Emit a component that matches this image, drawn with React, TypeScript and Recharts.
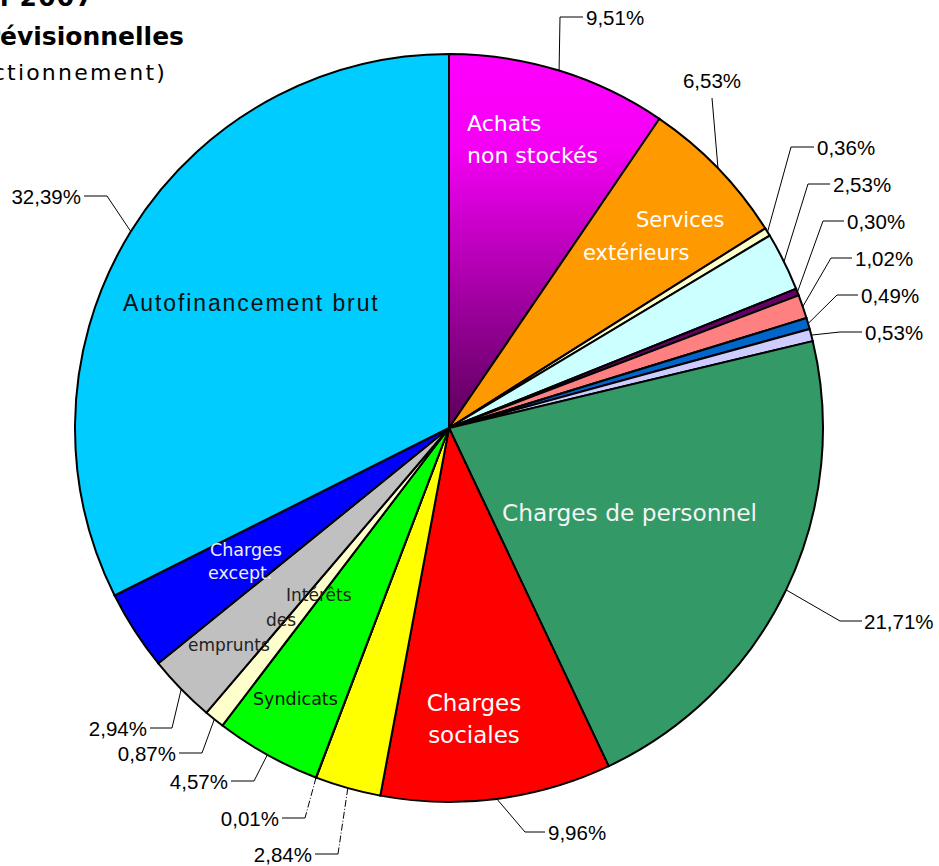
import { PieChart, Pie, Cell } from "recharts";

// postes de dépenses, dans l'ordre du camembert (sens horaire depuis midi)
const categories = [
  "Achats non stockés",
  "Services extérieurs",
  "Poste 3",
  "Poste 4",
  "Poste 5",
  "Poste 6",
  "Poste 7",
  "Poste 8",
  "Charges de personnel",
  "Charges sociales",
  "Poste 11",
  "Poste 12",
  "Syndicats",
  "Poste 14",
  "Intérêts des emprunts",
  "Charges except.",
  "Autofinancement brut",
];

const values = [9.51, 6.53, 0.36, 2.53, 0.3, 1.02, 0.49, 0.53, 21.71, 9.96, 2.84, 0.01, 4.57, 0.87, 2.94, 3.44, 32.39];

const percentLabels = [
  "9,51%", "6,53%", "0,36%", "2,53%", "0,30%", "1,02%", "0,49%", "0,53%",
  "21,71%", "9,96%", "2,84%", "0,01%", "4,57%", "0,87%", "2,94%", "", "32,39%",
];

const sliceColors = [
  "url(#achatsGrad)", "#FF9900", "#FFFFCC", "#CCFFFF", "#660066", "#FF8080", "#0066CC", "#CCCCFF",
  "#339966", "#FF0000", "#FFFF00", "#993366", "#00FF00", "#FFFFCC", "#C0C0C0", "#0000FF", "#00CCFF",
];

const data = categories.map((name, i) => ({ name, value: values[i] }));

// placement des étiquettes (mise en page, pas des données)
type Callout = { elbow: [number, number]; end: [number, number]; tx: number; ty: number; anchor: "start" | "middle" | "end"; dashed?: boolean };
const callouts: Record<number, Callout> = {
  0: { elbow: [560, 17], end: [583, 17], tx: 586, ty: 17, anchor: "start" },
  1: { elbow: [712, 98], end: [712, 98], tx: 712, ty: 80, anchor: "middle" },
  2: { elbow: [791, 147], end: [814, 147], tx: 817, ty: 147, anchor: "start" },
  3: { elbow: [808, 184], end: [830, 184], tx: 833, ty: 184, anchor: "start" },
  4: { elbow: [823, 221], end: [844, 221], tx: 847, ty: 221, anchor: "start" },
  5: { elbow: [831, 258], end: [852, 258], tx: 855, ty: 258, anchor: "start" },
  6: { elbow: [837, 295], end: [858, 295], tx: 861, ty: 295, anchor: "start" },
  7: { elbow: [840, 332], end: [862, 332], tx: 865, ty: 332, anchor: "start" },
  8: { elbow: [840, 621], end: [862, 621], tx: 864, ty: 621, anchor: "start" },
  9: { elbow: [525, 832], end: [545, 832], tx: 548, ty: 832, anchor: "start" },
  10: { elbow: [338, 854], end: [315, 854], tx: 312, ty: 854, anchor: "end", dashed: true },
  11: { elbow: [305, 818], end: [282, 818], tx: 279, ty: 818, anchor: "end", dashed: true },
  12: { elbow: [254, 781], end: [231, 781], tx: 228, ty: 781, anchor: "end" },
  13: { elbow: [202, 753], end: [179, 753], tx: 176, ty: 753, anchor: "end" },
  14: { elbow: [172, 728], end: [150, 728], tx: 147, ty: 728, anchor: "end" },
  16: { elbow: [107, 196], end: [84, 196], tx: 81, ty: 196, anchor: "end" },
};

type Line = { t: string; x: number; y: number; anchor?: "start" | "middle" | "end" };
type Inside = { lines: Line[]; color: string; size: number; font?: string; spacing?: number };
const CG = "'DejaVu Sans', sans-serif";
const insideLabels: Record<number, Inside> = {
  0: { lines: [{ t: "Achats", x: 467, y: 123 }, { t: "non stockés", x: 467, y: 155 }], color: "#fff", size: 22 },
  1: { lines: [{ t: "Services", x: 636, y: 220 }, { t: "extérieurs", x: 583, y: 253 }], color: "#fff", size: 21 },
  8: { lines: [{ t: "Charges de personnel", x: 502, y: 512 }], color: "#f4f4f4", size: 23.3 },
  9: { lines: [{ t: "Charges", x: 474, y: 703, anchor: "middle" }, { t: "sociales", x: 474, y: 735, anchor: "middle" }], color: "#fff", size: 23 },
  12: { lines: [{ t: "Syndicats", x: 253, y: 699 }], color: "#111", size: 17.5 },
  14: { lines: [{ t: "Intérêts", x: 286, y: 595 }, { t: "des", x: 266, y: 620 }, { t: "emprunts", x: 188, y: 645 }], color: "#222", size: 17 },
  15: { lines: [{ t: "Charges", x: 210, y: 550 }, { t: "except.", x: 208, y: 573 }], color: "#eee", size: 17.5 },
  16: { lines: [{ t: "Autofinancement brut", x: 123, y: 303 }], color: "#111", size: 23, font: "'Liberation Sans', Arial, sans-serif", spacing: 1.9 },
};

const RAD = Math.PI / 180;

const renderLabel = (props: any) => {
  const { cx, cy, midAngle, outerRadius, index } = props;
  const c = callouts[index];
  const inside = insideLabels[index];
  const ax = cx + outerRadius * Math.cos(-midAngle * RAD);
  const ay = cy + outerRadius * Math.sin(-midAngle * RAD);
  return (
    <g key={`lbl-${index}`}>
      {inside &&
        inside.lines.map((l, j) => (
          <text
            key={j}
            x={l.x}
            y={l.y}
            textAnchor={l.anchor || "start"}
            dominantBaseline="central"
            fill={inside.color}
            fontSize={inside.size}
            fontFamily={inside.font || CG}
            letterSpacing={inside.spacing || 0}
          >
            {l.t}
          </text>
        ))}
      {c && (
        <>
          <line
            x1={ax}
            y1={ay}
            x2={c.elbow[0]}
            y2={c.elbow[1]}
            stroke="#000"
            strokeWidth={1}
            strokeDasharray={c.dashed ? "7 2 1 2" : undefined}
          />
          <line x1={c.elbow[0]} y1={c.elbow[1]} x2={c.end[0]} y2={c.end[1]} stroke="#000" strokeWidth={1} />
          <text
            x={c.tx}
            y={c.ty}
            textAnchor={c.anchor}
            dominantBaseline="central"
            fill="#000"
            fontSize={20.5}
            fontFamily="'Liberation Sans', Arial, sans-serif"
          >
            {percentLabels[index]}
          </text>
        </>
      )}
    </g>
  );
};

export default function App() {
  return (
    <div style={{ position: "absolute", left: 0, top: 0, width: 939, height: 866, background: "#fff" }}>
      <PieChart width={939} height={866} margin={{ top: 0, right: 0, bottom: 0, left: 0 }}>
        <defs>
          <linearGradient id="achatsGrad" gradientUnits="userSpaceOnUse" x1="0" y1="55" x2="0" y2="428">
            <stop offset="0" stopColor="#FF00FF" />
            <stop offset="0.25" stopColor="#F400F4" />
            <stop offset="1" stopColor="#5A005A" />
          </linearGradient>
        </defs>
        <Pie
          data={data}
          dataKey="value"
          nameKey="name"
          cx={449}
          cy={428}
          outerRadius={374}
          startAngle={90}
          endAngle={-270}
          stroke="#000"
          strokeWidth={2}
          label={renderLabel}
          labelLine={false}
          isAnimationActive={false}
        >
          {data.map((_, i) => (
            <Cell key={`cell-${i}`} fill={sliceColors[i]} stroke="#000" strokeWidth={2} />
          ))}
        </Pie>
      </PieChart>
      <svg width={939} height={866} style={{ position: "absolute", left: 0, top: 0, pointerEvents: "none" }}>
        <g fontFamily="'DejaVu Sans', sans-serif" fill="#000" textAnchor="end">
          <text x={94} y={6} fontSize={25} fontWeight="bold" letterSpacing={1.2}>Budget principal 2007</text>
          <text x={184} y={45} fontSize={25} fontWeight="bold">Dépenses prévisionnelles</text>
          <text x={167} y={80} fontSize={22} letterSpacing={2.2}>(section de fonctionnement)</text>
        </g>
      </svg>
    </div>
  );
}
